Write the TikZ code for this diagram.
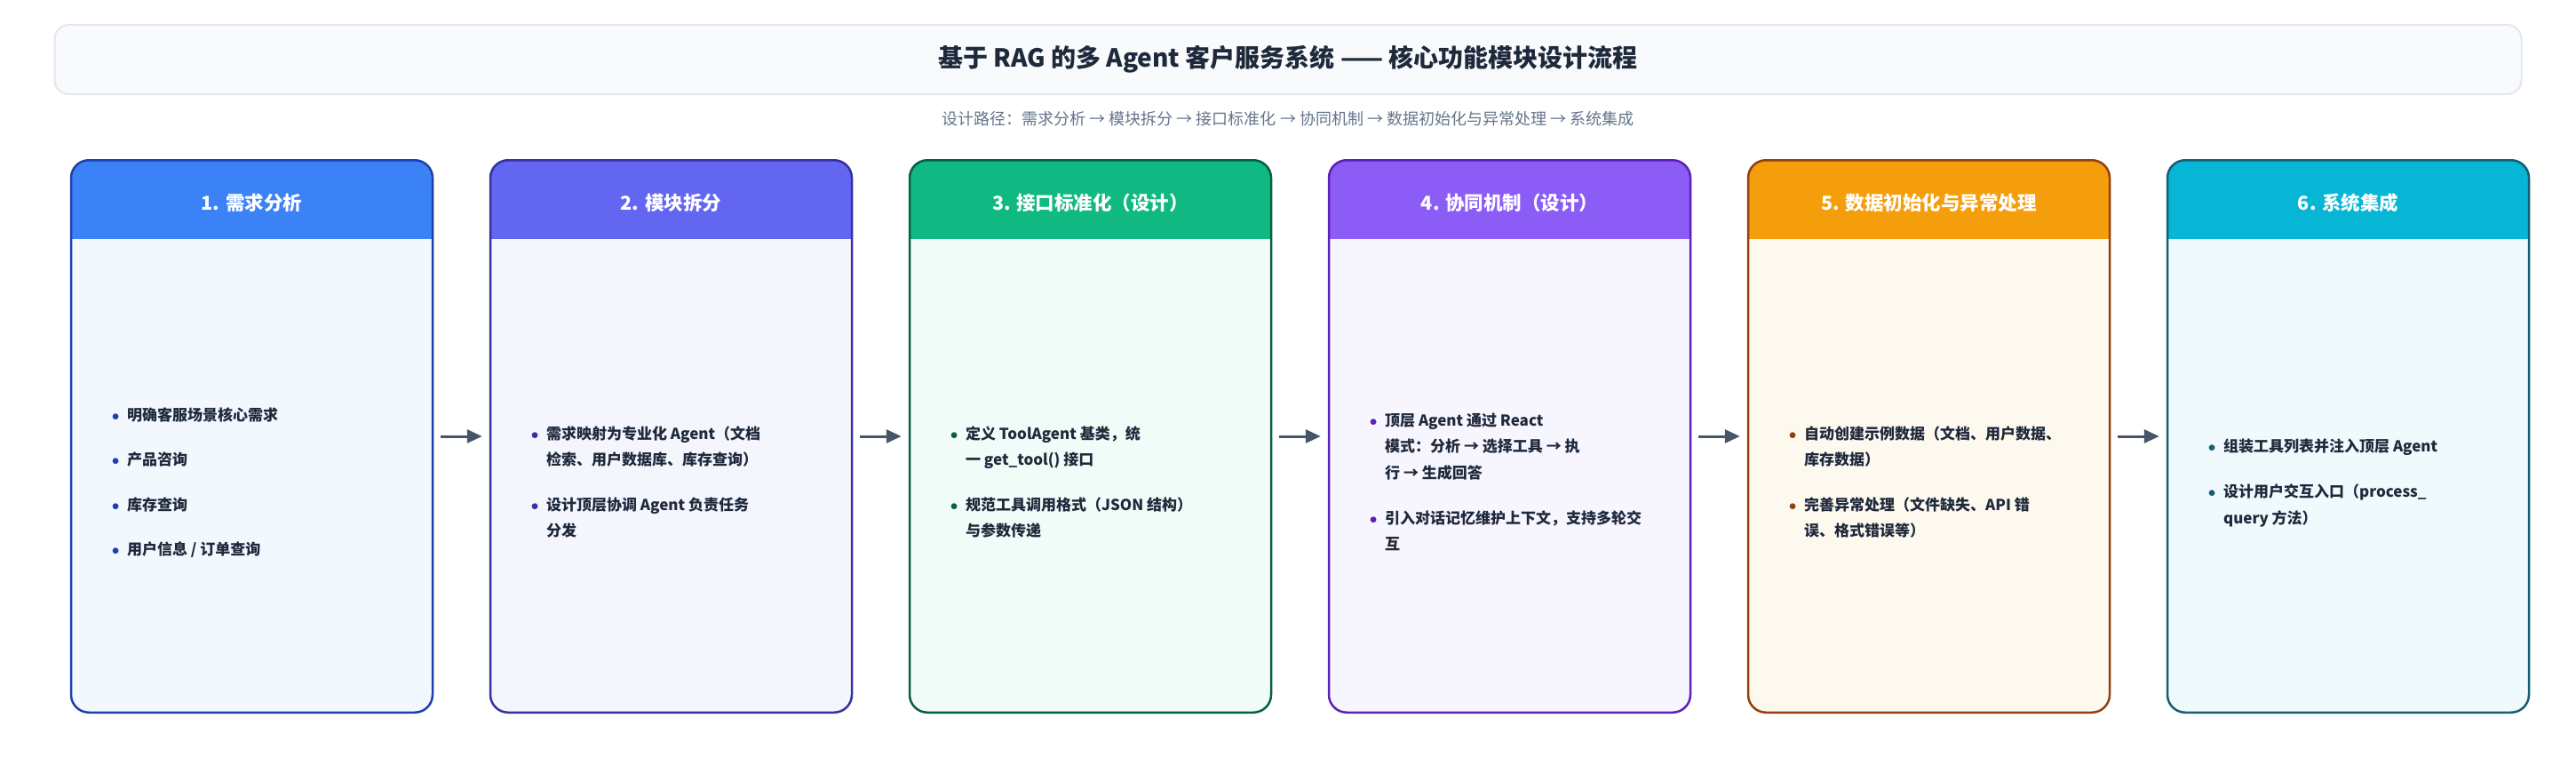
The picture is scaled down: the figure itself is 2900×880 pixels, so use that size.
\documentclass[tikz,border=0pt]{standalone}
\usepackage{fontspec}
\setmainfont{Noto Sans CJK SC}
\usepackage{tikz}
\usetikzlibrary{positioning,arrows.meta}
\definecolor{ink}{HTML}{1E293B}
\definecolor{muted}{HTML}{64748B}
\definecolor{flowc}{HTML}{475569}
\definecolor{titlebg}{HTML}{F8FAFC}
\definecolor{titleln}{HTML}{E2E8F0}
\definecolor{needhd}{HTML}{3B82F6}\definecolor{needln}{HTML}{1E40AF}\definecolor{needbg}{HTML}{F3F7FE}
\definecolor{splithd}{HTML}{6366F1}\definecolor{splitln}{HTML}{3730A3}\definecolor{splitbg}{HTML}{F5F5FE}
\definecolor{apihd}{HTML}{10B981}\definecolor{apiln}{HTML}{065F46}\definecolor{apibg}{HTML}{F1FBF7}
\definecolor{coophd}{HTML}{8B5CF6}\definecolor{coopln}{HTML}{5B21B6}\definecolor{coopbg}{HTML}{F7F5FE}
\definecolor{datahd}{HTML}{F59E0B}\definecolor{dataln}{HTML}{92400E}\definecolor{databg}{HTML}{FEF9EF}
\definecolor{sysd}{HTML}{06B6D4}\definecolor{sysln}{HTML}{155E75}\definecolor{sysbg}{HTML}{F0FAFD}
\newcommand{\bul}[1]{{\color{#1}$\bullet$}}

\begin{document}
\begin{tikzpicture}[x=1pt,y=-1pt,
        card/.style n args={3}{draw=#1, fill=#2, line width=2.5pt, rounded corners=20pt,
            minimum width=407pt, minimum height=621.5pt, inner sep=0pt,
            path picture={\fill[#3, sharp corners] (path picture bounding box.north west) rectangle ([yshift=-89pt]path picture bounding box.north east);}},
        head/.style={text=white, font=\fontsize{21.5}{26}\selectfont\bfseries},
        body/.style={anchor=west, inner sep=0pt, text=ink, font=\fontsize{17}{29.6}\selectfont\bfseries},
        flow/.style={draw=flowc, line width=3pt, -{Triangle[length=17pt,width=15pt]}, shorten <=8pt, shorten >=8pt}]
        \useasboundingbox (0,0) rectangle (2900,880);
        \node[draw=titleln, fill=titlebg, line width=2pt, rounded corners=16pt, minimum width=2777pt, minimum height=78pt,
            text=ink, font=\fontsize{28}{34}\selectfont\bfseries] (title) at (1450,67) {基于 RAG 的多 Agent 客户服务系统 —— 核心功能模块设计流程};
        \node[text=muted, font=\fontsize{18}{22}\selectfont] (path) at ([yshift=-27pt]title.south) {设计路径：需求分析 → 模块拆分 → 接口标准化 → 协同机制 → 数据初始化与异常处理 → 系统集成};
        \node[card={needln}{needbg}{needhd}] (c1) at (283.5,491) {};
        \node[card={splitln}{splitbg}{splithd}, right=62.5pt of c1] (c2) {};
        \node[card={apiln}{apibg}{apihd}, right=62.5pt of c2] (c3) {};
        \node[card={coopln}{coopbg}{coophd}, right=62.5pt of c3] (c4) {};
        \node[card={dataln}{databg}{datahd}, right=62.5pt of c4] (c5) {};
        \node[card={sysln}{sysbg}{sysd}, right=62.5pt of c5] (c6) {};
        \node[head] (h1) at ([yshift=-49pt]c1.north) {1. 需求分析};
        \node[head] (h2) at ([yshift=-49pt]c2.north) {2. 模块拆分};
        \node[head] (h3) at ([yshift=-49pt]c3.north) {3. 接口标准化（设计）};
        \node[head] (h4) at ([yshift=-49pt]c4.north) {4. 协同机制（设计）};
        \node[head] (h5) at ([yshift=-49pt]c5.north) {5. 数据初始化与异常处理};
        \node[head] (h6) at ([yshift=-49pt]c6.north) {6. 系统集成};
        \node[body] (t1) at ([xshift=47pt,yshift=-52pt]c1.west) {\begin{tabular}{@{}l@{\hspace{8.5pt}}l@{}}
            \bul{needln} & 明确客服场景核心需求\\[21pt]
            \bul{needln} & 产品咨询\\[21pt]
            \bul{needln} & 库存查询\\[21pt]
            \bul{needln} & 用户信息 / 订单查询
        \end{tabular}};
        \node[body] (t2) at ([xshift=47pt,yshift=-52pt]c2.west) {\begin{tabular}{@{}l@{\hspace{8.5pt}}l@{}}
            \bul{splitln} & 需求映射为专业化 Agent（文档\\
             & 检索、用户数据库、库存查询）\\[21pt]
            \bul{splitln} & 设计顶层协调 Agent 负责任务\\
             & 分发
        \end{tabular}};
        \node[body] (t3) at ([xshift=47pt,yshift=-52pt]c3.west) {\begin{tabular}{@{}l@{\hspace{8.5pt}}l@{}}
            \bul{apiln} & 定义 ToolAgent 基类，统\\
             & 一 get\_tool() 接口\\[21pt]
            \bul{apiln} & 规范工具调用格式（JSON 结构）\\
             & 与参数传递
        \end{tabular}};
        \node[body] (t4) at ([xshift=47pt,yshift=-52pt]c4.west) {\begin{tabular}{@{}l@{\hspace{8.5pt}}l@{}}
            \bul{coopln} & 顶层 Agent 通过 React\\
             & 模式：分析 → 选择工具 → 执\\
             & 行 → 生成回答\\[21pt]
            \bul{coopln} & 引入对话记忆维护上下文，支持多轮交\\
             & 互
        \end{tabular}};
        \node[body] (t5) at ([xshift=47pt,yshift=-52pt]c5.west) {\begin{tabular}{@{}l@{\hspace{8.5pt}}l@{}}
            \bul{dataln} & 自动创建示例数据（文档、用户数据、\\
             & 库存数据）\\[21pt]
            \bul{dataln} & 完善异常处理（文件缺失、API 错\\
             & 误、格式错误等）
        \end{tabular}};
        \node[body] (t6) at ([xshift=47pt,yshift=-52pt]c6.west) {\begin{tabular}{@{}l@{\hspace{8.5pt}}l@{}}
            \bul{sysln} & 组装工具列表并注入顶层 Agent\\[21pt]
            \bul{sysln} & 设计用户交互入口（process\_\\
             & query 方法）
        \end{tabular}};
        \draw[flow] (c1) -- (c2);
        \draw[flow] (c2) -- (c3);
        \draw[flow] (c3) -- (c4);
        \draw[flow] (c4) -- (c5);
        \draw[flow] (c5) -- (c6);
    \end{tikzpicture}
\end{document}
